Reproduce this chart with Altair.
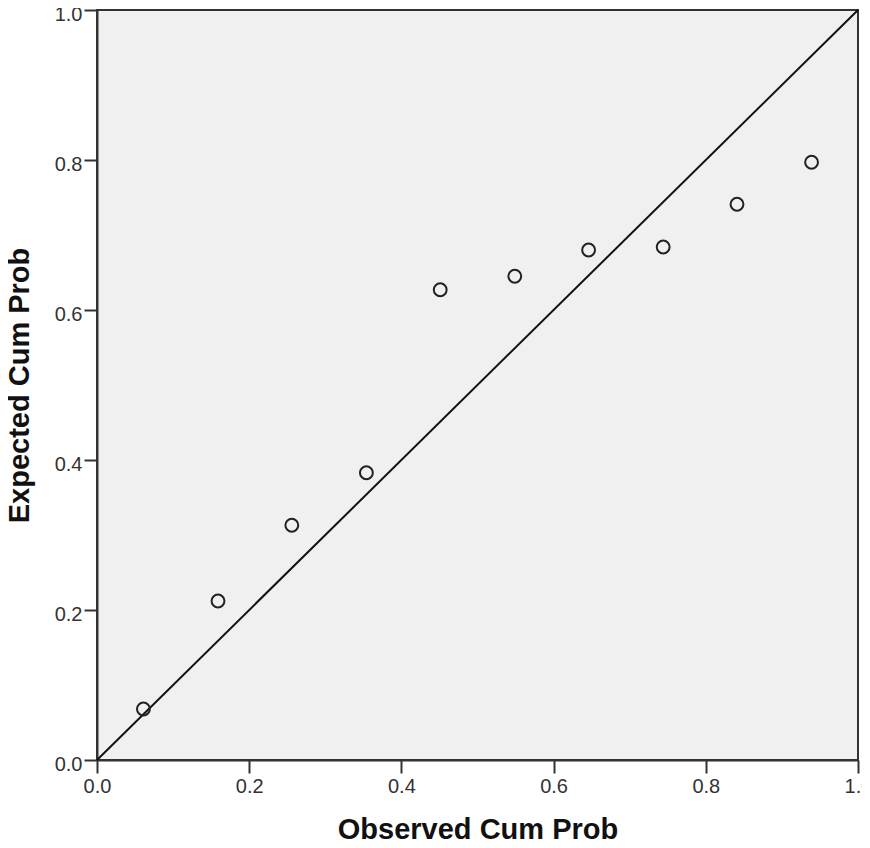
import altair as alt
import pandas as pd

observed = [0.061, 0.159, 0.256, 0.354, 0.451, 0.549, 0.646, 0.744, 0.841, 0.939]
expected = [0.068, 0.212, 0.313, 0.383, 0.627, 0.645, 0.680, 0.684, 0.741, 0.797]
ref_x = [0.0, 1.0]
ref_y = [0.0, 1.0]
ticks = [0.0, 0.2, 0.4, 0.6, 0.8, 1.0]

pts = pd.DataFrame({"obs": observed, "exp": expected})
ref = pd.DataFrame({"obs": ref_x, "exp": ref_y})

FONT = "Liberation Sans"

xscale = alt.Scale(domain=[0, 1], nice=False, zero=False)
yscale = alt.Scale(domain=[0, 1], nice=False, zero=False)

xaxis = alt.Axis(title="Observed Cum Prob", values=ticks, format=".1f", grid=False,
                 labelFont=FONT, labelFontSize=20, labelColor="#333333",
                 titleFont=FONT, titleFontSize=29, titleFontWeight="bold", titleColor="#111111",
                 tickSize=13, tickColor="#333333", tickWidth=2, labelPadding=3,
                 domainColor="#333333", domainWidth=2, titlePadding=19, labelFlush=False)
yaxis = alt.Axis(title="Expected Cum Prob", values=ticks, format=".1f", grid=False,
                 labelFont=FONT, labelFontSize=20, labelColor="#333333",
                 titleFont=FONT, titleFontSize=29, titleFontWeight="bold", titleColor="#111111",
                 tickSize=13, tickColor="#333333", tickWidth=2, labelPadding=2, labelOffset=4,
                 domainColor="#333333", domainWidth=2, titlePadding=20, labelFlush=False)

line = alt.Chart(ref).mark_line(color="#111111", strokeWidth=2).encode(
    x=alt.X("obs:Q", scale=xscale, axis=xaxis),
    y=alt.Y("exp:Q", scale=yscale, axis=yaxis),
)

points = alt.Chart(pts).mark_point(shape="circle", filled=False, size=165, opacity=1,
                                   color="#222222", strokeWidth=2).encode(
    x=alt.X("obs:Q", scale=xscale),
    y=alt.Y("exp:Q", scale=yscale),
)

chart = alt.layer(line, points).properties(
    width=761, height=750,
    autosize=alt.AutoSizeParams(type="none"),
    padding={"left": 89, "top": 2, "right": 4, "bottom": 80},
).configure_view(
    fill="#f0f0f0", stroke="#333333", strokeWidth=2
)

chart.save("out.html", embed_options={"renderer": "svg", "actions": False})
